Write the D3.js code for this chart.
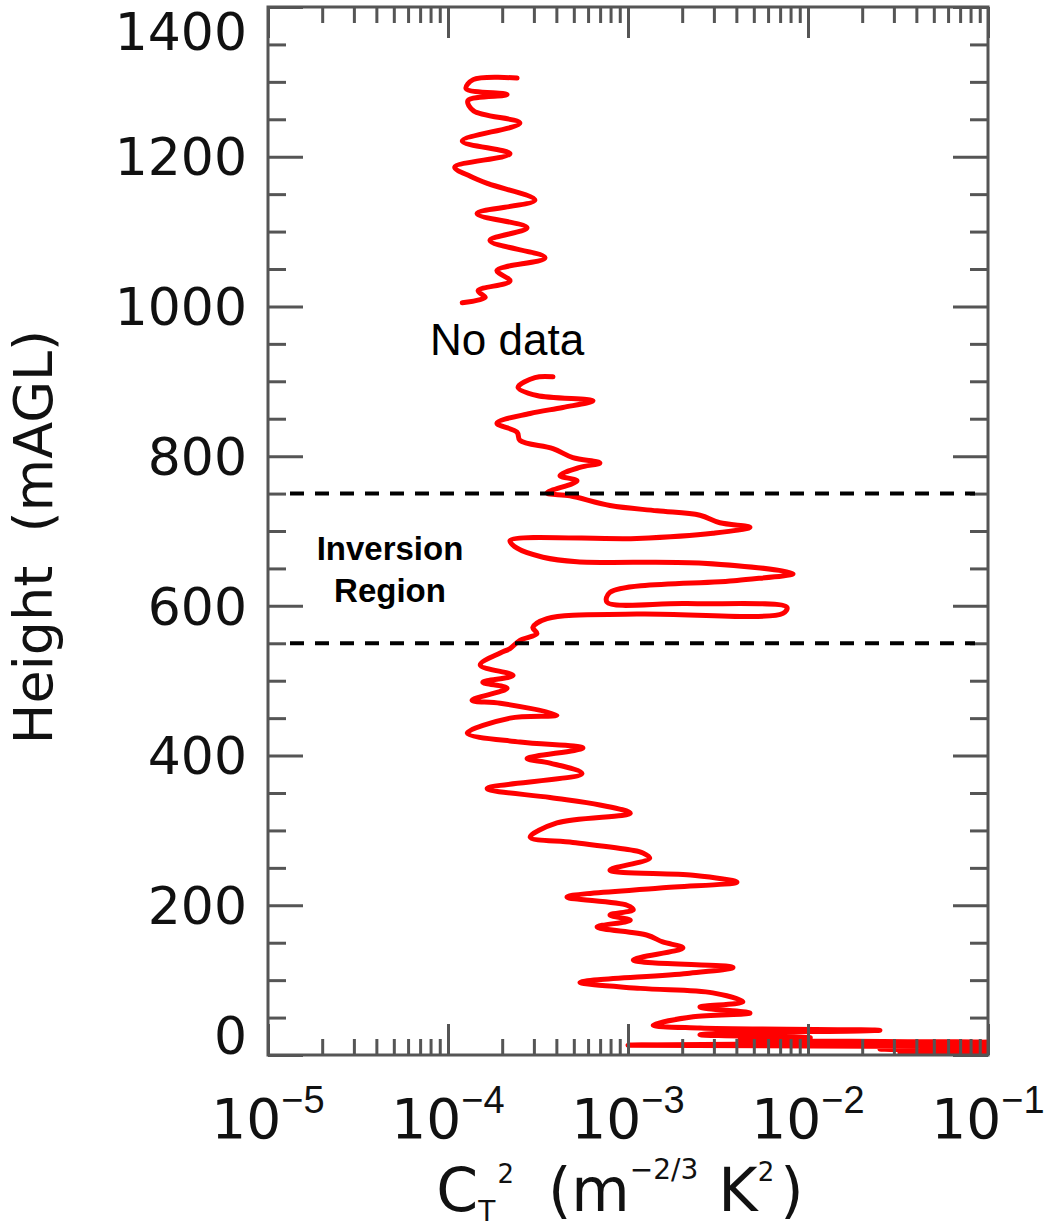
<!DOCTYPE html>
<html>
<head>
<meta charset="utf-8">
<script src="https://cdn.jsdelivr.net/npm/d3@7"></script>
<style>
  body { margin: 0; background: #fff; }
  .tick line { stroke: #555; stroke-width: 3; }
  .domain { display: none; }
</style>
</head>
<body>
<div id="chart"></div>
<script>
// height ticks (m) and C_T^2 decades
const yTicks = [0, 200, 400, 600, 800, 1000, 1200, 1400];
const xTickExps = [-5, -4, -3, -2, -1];

// profile above the data gap (m, m^-2/3 K^2)
const upperHeight = [1305, 1303, 1291, 1283, 1275, 1261, 1245, 1221, 1204, 1186,
  1174, 1164, 1142, 1124, 1105, 1088, 1065, 1048, 1034, 1021, 1012, 1005];
const upperCt2 = [2.42e-4, 1.38e-4, 1.26e-4, 2.13e-4, 1.29e-4, 1.39e-4, 2.51e-4, 1.20e-4, 2.21e-4, 1.09e-4,
  1.33e-4, 1.67e-4, 3.04e-4, 1.45e-4, 2.75e-4, 1.71e-4, 3.46e-4, 1.87e-4, 2.21e-4, 1.47e-4, 1.61e-4, 1.20e-4];

// profile below the data gap
const lowerHeight = [906, 905, 892, 881, 874, 865, 857, 844, 832, 821,
  810, 798, 791, 785, 774, 767, 751, 747, 734, 727,
  721, 711, 705, 697, 690, 687, 677, 665, 659, 657,
  643, 634, 618, 605, 603, 598, 590, 589, 583, 571,
  563, 554, 543, 537, 521, 507, 498, 490, 474, 470,
  454, 450, 430, 418, 410, 396, 390, 376, 356, 344,
  334, 323, 310, 291, 284, 274, 270, 263, 247, 240,
  231, 223, 211, 200, 194, 187, 180, 171, 160, 151,
  143, 127, 117, 109, 97, 89, 83, 71, 64, 56,
  51, 40, 36, 33, 29, 27, 23, 20, 17, 13,
  11, 8, 5, 3, 0];
const lowerCt2 = [3.83e-4, 3.04e-4, 2.45e-4, 3.12e-4, 6.39e-4, 4.35e-4, 2.86e-4, 1.87e-4, 2.42e-4, 2.51e-4,
  3.83e-4, 4.94e-4, 6.98e-4, 5.41e-4, 4.19e-4, 5.21e-4, 3.55e-4, 4.76e-4, 7.94e-4, 1.45e-3,
  2.51e-3, 3.24e-3, 4.76e-3, 2.96e-3, 1.12e-3, 2.21e-4, 2.42e-4, 3.37e-4, 5.21e-4, 2.61e-3,
  8.26e-3, 4.03e-3, 7.94e-4, 7.64e-4, 2.13e-3, 7.64e-3, 7.26e-3, 1.12e-3, 3.55e-4, 2.96e-4,
  3.12e-4, 2.51e-4, 2.21e-4, 1.95e-4, 1.51e-4, 2.30e-4, 1.56e-4, 2.13e-4, 1.36e-4, 1.95e-4,
  4.03e-4, 2.21e-4, 1.28e-4, 2.51e-4, 5.62e-4, 2.75e-4, 3.69e-4, 5.55e-4, 1.65e-4, 3.69e-4,
  6.98e-4, 1.03e-3, 4.03e-4, 2.86e-4, 4.94e-4, 1.03e-3, 1.21e-3, 1.32e-3, 7.94e-4, 2.30e-3,
  4.03e-3, 1.51e-3, 4.58e-4, 9.87e-4, 1.07e-3, 7.94e-4, 1.03e-3, 6.73e-4, 1.28e-3, 1.56e-3,
  2.02e-3, 1.07e-3, 3.83e-3, 2.13e-3, 5.41e-4, 1.17e-3, 2.96e-3, 4.35e-3, 2.51e-3, 4.76e-3,
  2.30e-3, 1.38e-3, 2.51e-3, 2.51e-2, 3.24e-3, 2.51e-3, 1.03e-2, 4.19e-3, 1.0e-1, 1.0e-3,
  1.0e-1, 2.51e-2, 1.0e-1, 3.24e-2, 1.0e-1];

// inversion layer bounds (m)
const inversionBounds = [550, 750];

const width = 1044, height = 1228;
const plot = { left: 268, right: 988, top: 7, bottom: 1055 };
const axisColor = "#555";
const tickFont = "'DejaVu Sans', sans-serif";
const supFont = "'Liberation Sans', Arial, sans-serif";

const svg = d3.select("#chart").append("svg")
  .attr("width", width)
  .attr("height", height);

const x = d3.scaleLog().domain([1e-5, 1e-1]).range([plot.left, plot.right]);
const y = d3.scaleLinear().domain([0, 1400]).range([plot.bottom, plot.top]);

svg.append("clipPath").attr("id", "plotClip")
  .append("rect")
  .attr("x", plot.left).attr("y", plot.top)
  .attr("width", plot.right - plot.left)
  .attr("height", plot.bottom - plot.top);

// profile line
const line = d3.line()
  .x(d => x(d.v))
  .y(d => y(d.h))
  .curve(d3.curveCatmullRom.alpha(0.5));

const segments = [
  upperHeight.map((h, i) => ({ h, v: upperCt2[i] })),
  lowerHeight.map((h, i) => ({ h, v: lowerCt2[i] }))
];

svg.append("g").attr("clip-path", "url(#plotClip)")
  .selectAll("path.profile")
  .data(segments)
  .enter().append("path")
  .attr("class", "profile")
  .attr("d", line)
  .attr("fill", "none")
  .attr("stroke", "#ff0000")
  .attr("stroke-width", 5)
  .attr("stroke-linejoin", "round")
  .attr("stroke-linecap", "round");

// minor tick values
const yMinor = d3.range(0, 1401, 50).filter(v => v % 200 !== 0);
const xMinor = [];
xTickExps.slice(0, -1).forEach(e => {
  for (let k = 2; k <= 9; k++) xMinor.push(k * Math.pow(10, e));
});
const xMajor = xTickExps.map(e => Math.pow(10, e));

function addAxis(axisFn, scale, values, size, transform) {
  svg.append("g")
    .attr("transform", transform)
    .call(axisFn(scale).tickValues(values).tickSize(size).tickFormat(""));
}
addAxis(d3.axisLeft, y, yTicks, -35, `translate(${plot.left},0)`);
addAxis(d3.axisLeft, y, yMinor, -18, `translate(${plot.left},0)`);
addAxis(d3.axisRight, y, yTicks, -35, `translate(${plot.right},0)`);
addAxis(d3.axisRight, y, yMinor, -18, `translate(${plot.right},0)`);
addAxis(d3.axisBottom, x, xMajor, -31, `translate(0,${plot.bottom})`);
addAxis(d3.axisBottom, x, xMinor, -16, `translate(0,${plot.bottom})`);
addAxis(d3.axisTop, x, xMajor, -31, `translate(0,${plot.top})`);
addAxis(d3.axisTop, x, xMinor, -16, `translate(0,${plot.top})`);

// frame
svg.append("rect")
  .attr("x", plot.left).attr("y", plot.top)
  .attr("width", plot.right - plot.left)
  .attr("height", plot.bottom - plot.top)
  .attr("fill", "none")
  .attr("stroke", axisColor)
  .attr("stroke-width", 3);

// dashed inversion bounds
svg.selectAll("line.inv")
  .data(inversionBounds)
  .enter().append("line")
  .attr("class", "inv")
  .attr("x1", plot.left + 22)
  .attr("x2", plot.right - 13)
  .attr("y1", d => y(d))
  .attr("y2", d => y(d))
  .attr("stroke", "#000")
  .attr("stroke-width", 4)
  .attr("stroke-dasharray", "14 11");

// y tick labels
svg.selectAll("text.ylab")
  .data(yTicks)
  .enter().append("text")
  .attr("class", "ylab")
  .attr("x", plot.left - 21)
  .attr("y", d => Math.min(Math.max(y(d), plot.top + 24), plot.bottom - 20))
  .attr("dy", "0.36em")
  .attr("text-anchor", "end")
  .attr("font-family", tickFont)
  .attr("font-size", 52)
  .attr("fill", "#111")
  .text(d => d);

// x tick labels: 10^e
const xl = svg.selectAll("text.xlab")
  .data(xTickExps)
  .enter().append("text")
  .attr("class", "xlab")
  .attr("x", d => x(Math.pow(10, d)))
  .attr("y", 1138)
  .attr("text-anchor", "middle")
  .attr("font-family", tickFont)
  .attr("font-size", 55)
  .attr("fill", "#111");
xl.append("tspan").text("10");
xl.append("tspan")
  .attr("dy", -25)
  .attr("font-family", supFont)
  .attr("font-size", 38)
  .text(d => "\u2212" + Math.abs(d));

// axis titles
svg.append("text")
  .attr("transform", `translate(52,${(plot.top + plot.bottom) / 2 + 6}) rotate(-90)`)
  .attr("text-anchor", "middle")
  .attr("font-family", tickFont)
  .attr("font-size", 54)
  .attr("word-spacing", 16)
  .attr("fill", "#111")
  .text("Height (mAGL)");

const xt = svg.append("text")
  .attr("x", 620)
  .attr("y", 1211)
  .attr("text-anchor", "middle")
  .attr("font-family", tickFont)
  .attr("font-size", 60)
  .attr("fill", "#111");
xt.append("tspan").text("C");
xt.append("tspan").attr("font-size", 28).attr("dy", 10).text("T");
xt.append("tspan").attr("font-size", 26).attr("dy", -38).attr("dx", 2).text("2");
xt.append("tspan").attr("dy", 28).attr("dx", 34).text("(m");
xt.append("tspan").attr("font-size", 28).attr("dy", -32).text("\u22122/3");
xt.append("tspan").attr("dy", 32).attr("dx", 20).text("K");
xt.append("tspan").attr("font-size", 26).attr("dy", -30).text("2");
xt.append("tspan").attr("dy", 30).attr("dx", 6).text(")");

// annotations
svg.append("text")
  .attr("x", x(2.13e-4))
  .attr("y", y(935))
  .attr("text-anchor", "middle")
  .attr("font-family", "'Liberation Sans', Arial, sans-serif")
  .attr("font-size", 44)
  .attr("fill", "#000")
  .text("No data");

const invMid = y(d3.mean(inversionBounds));
const invLab = svg.append("text")
  .attr("text-anchor", "middle")
  .attr("font-family", "'Liberation Sans', Arial, sans-serif")
  .attr("font-weight", "bold")
  .attr("font-size", 33)
  .attr("fill", "#000");
invLab.append("tspan").attr("x", 390).attr("y", invMid - 8).text("Inversion");
invLab.append("tspan").attr("x", 390).attr("y", invMid + 34).text("Region");
</script>
</body>
</html>
